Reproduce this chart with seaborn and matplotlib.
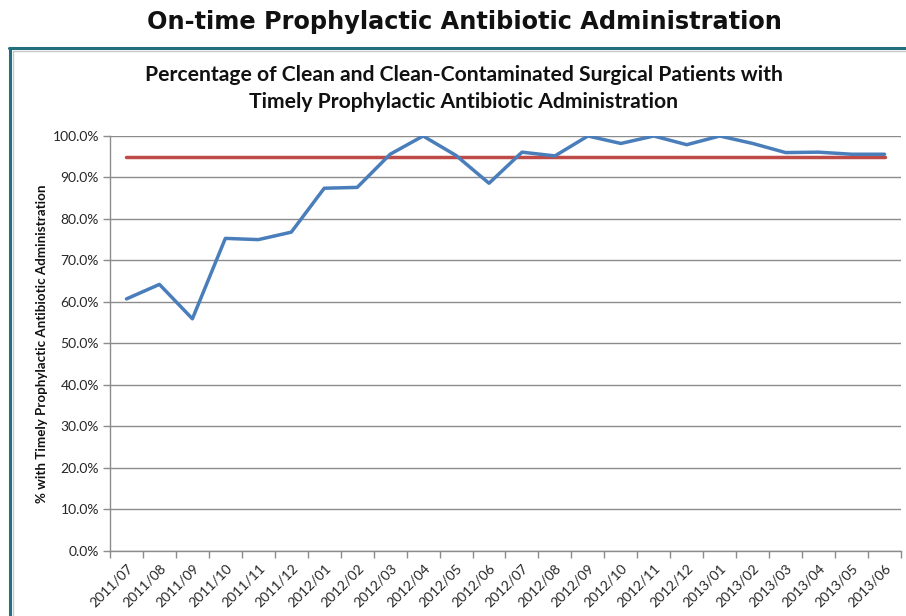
import matplotlib
matplotlib.use("Agg")
import matplotlib.pyplot as plt
import seaborn as sns
import pandas as pd
from matplotlib.lines import Line2D
from matplotlib.ticker import FuncFormatter, MultipleLocator, FixedLocator

months = ["2011/07", "2011/08", "2011/09", "2011/10", "2011/11", "2011/12",
          "2012/01", "2012/02", "2012/03", "2012/04", "2012/05", "2012/06",
          "2012/07", "2012/08", "2012/09", "2012/10", "2012/11", "2012/12",
          "2013/01", "2013/02", "2013/03", "2013/04", "2013/05", "2013/06"]
pct_timely = [60.7, 64.2, 55.9, 75.3, 75.0, 76.8, 87.4, 87.6, 95.6, 100.0, 95.3, 88.6,
              96.1, 95.2, 100.0, 98.2, 100.0, 97.9, 100.0, 98.2, 96.0, 96.1, 95.6, 95.6]
target = [95.0] * len(months)

df = pd.DataFrame({"month": months, "pct": pct_timely, "target": target})
df["idx"] = range(len(months))

sns.set_theme(style="white")
plt.rcParams["font.family"] = ["Lato", "DejaVu Sans"]

W, H = 906, 616
fig = plt.figure(figsize=(W / 100, H / 100), dpi=100)
ax = fig.add_axes([110 / W, (H - 550.5) / H, (901 - 110) / W, (550.5 - 136) / H])

sns.lineplot(data=df, x="idx", y="target", ax=ax, color="#BE4B48", linewidth=2.5, zorder=3)
sns.lineplot(data=df, x="idx", y="pct", ax=ax, color="#4A7EBB", linewidth=2.5, zorder=4)

ax.set_xlim(-0.5, len(months) - 0.5)
ax.set_ylim(0, 100)
ax.yaxis.set_major_locator(MultipleLocator(10))
ax.yaxis.set_major_formatter(FuncFormatter(lambda v, p: f"{v:.1f}%"))
ax.grid(axis="y", color="#8c8c8c", linewidth=1.0)
ax.grid(axis="x", visible=False)
ax.set_axisbelow(True)

ax.xaxis.set_major_locator(FixedLocator(list(range(len(months)))))
ax.set_xticklabels(months, rotation=45, ha="right", rotation_mode="anchor",
                   fontsize=10, color="#262626")
ax.xaxis.set_minor_locator(FixedLocator([i - 0.5 for i in range(len(months) + 1)]))
ax.tick_params(axis="x", which="major", length=0, pad=8)
ax.tick_params(axis="x", which="minor", length=5, width=1, color="#8c8c8c", direction="out", bottom=True)
ax.tick_params(axis="y", length=5, width=1, color="#8c8c8c", direction="out", left=True,
               labelsize=10, labelcolor="#262626", pad=3)

for s in ["top", "right"]:
    ax.spines[s].set_visible(False)
for s in ["left", "bottom"]:
    ax.spines[s].set_color("#8c8c8c")
    ax.spines[s].set_linewidth(1.0)

ax.set_xlabel("")
ax.set_ylabel("")
fig.text(42 / W, 1 - 344 / H, "% with Timely Prophylactic Antibiotic Administration",
         rotation=90, ha="center", va="center", fontsize=9.6, fontweight="bold",
         color="#111111")

fig.text(464 / W, 1 - 22 / H, "On-time Prophylactic Antibiotic Administration",
         ha="center", va="center", fontsize=17.3, fontweight="bold",
         family=["DejaVu Sans"], color="#111111")
fig.text(464 / W, 1 - 75 / H, "Percentage of Clean and Clean-Contaminated Surgical Patients with",
         ha="center", va="center", fontsize=15.2, fontweight="bold", color="#111111")
fig.text(464 / W, 1 - 102 / H, "Timely Prophylactic Antibiotic Administration",
         ha="center", va="center", fontsize=15.2, fontweight="bold", color="#111111")

# frame lines
fig.add_artist(Line2D([9 / W, 1], [1 - 48 / H, 1 - 48 / H], transform=fig.transFigure,
                      color="#236f7b", linewidth=2.2))
fig.add_artist(Line2D([10 / W, 10 / W], [0, 1 - 48 / H], transform=fig.transFigure,
                      color="#236f7b", linewidth=2.2))
fig.add_artist(Line2D([13 / W, 13 / W], [0, 1 - 51 / H], transform=fig.transFigure,
                      color="#c8c8c8", linewidth=1.0))
fig.add_artist(Line2D([13 / W, 1], [1 - 51 / H, 1 - 51 / H], transform=fig.transFigure,
                      color="#c8c8c8", linewidth=1.0))

fig.savefig("out.png", dpi=100)
